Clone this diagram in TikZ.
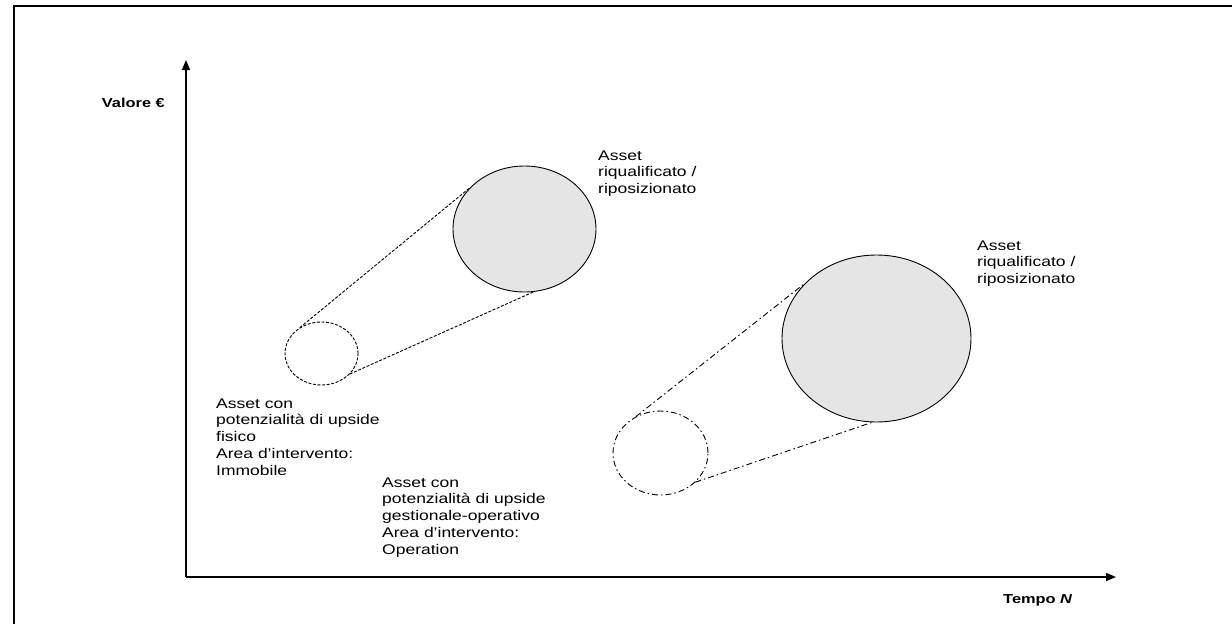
\documentclass[tikz,border=0pt]{standalone}
\usepackage{fontspec}
\usepackage{graphicx}
\setmainfont{Liberation Sans}
\usetikzlibrary{shapes.geometric,arrows.meta}
\newcommand{\widetext}[1]{\scalebox{1.25}[1]{\begin{tabular}{@{}l@{}}#1\end{tabular}}}
\newcommand{\wideword}[1]{\scalebox{1.26}[1]{#1}}
\tikzset{
  axis/.style={line width=1.4pt, -{Triangle[length=10pt,width=8pt]}},
  frameline/.style={line width=1.5pt},
  bigell/.style={ellipse, draw, line width=0.9pt, fill=gray!20, inner sep=0pt},
  smallell/.style={ellipse, draw, line width=0.9pt, inner sep=0pt},
  dashA/.style={line width=0.9pt, dash pattern=on 3pt off 1.6pt},
  dashB/.style={line width=0.9pt, dash pattern=on 6pt off 3pt on 1.5pt off 3pt},
  lbl/.style={font=\fontsize{14}{16.8}\selectfont, anchor=north west, inner sep=0pt},
  axlbl/.style={font=\fontsize{13}{15}\selectfont\bfseries, inner sep=0pt}
}
\begin{document}
\begin{tikzpicture}[x=1pt,y=-1pt]
\useasboundingbox (0,0) rectangle (1232,624);
% frame
\draw[frameline] (14,624) -- (14,6) -- (1232,6);
% axes
\coordinate (O) at (186,577);
\coordinate (ytip) at (186,60);
\coordinate (xtip) at (1116,577);
\draw[axis] (O) -- (ytip);
\draw[axis] (O) -- (xtip);
\node[axlbl, anchor=base east] (yl) at (165,107) {\wideword{Valore €}};
\node[axlbl, anchor=base west] (xl) at (1003,603) {\wideword{Tempo \textit{N}}};
% ellipses group 1
\node[smallell, dashA, minimum width=73pt, minimum height=63pt] (s1) at (321.5,353.5) {};
\node[bigell, minimum width=143pt, minimum height=126pt] (b1) at (524.5,229) {};
\draw[dashA] (s1.130) -- (b1.143);
\draw[dashA] (s1.-36) -- (b1.-82);
% ellipses group 2
\node[smallell, dashB, minimum width=95pt, minimum height=84pt] (s2) at (660.5,453) {};
\node[bigell, minimum width=189pt, minimum height=167pt] (b2) at (876.5,338.5) {};
\draw[dashB] (s2.124) -- (b2.142);
\draw[dashB] (s2.-40) -- (b2.-93);
% labels
\node[lbl] (t1) at (598,148.2) {\widetext{Asset\\riqualificato /\\riposizionato}};
\node[lbl] (t2) at (977,238.2) {\widetext{Asset\\riqualificato /\\riposizionato}};
\node[lbl] (t3) at (216,396.2) {\widetext{Asset con\\potenzialità di upside\\fisico\\Area d’intervento:\\Immobile}};
\node[lbl] (t4) at (382,475.2) {\widetext{Asset con\\potenzialità di upside\\gestionale-operativo\\Area d’intervento:\\Operation}};
\end{tikzpicture}
\end{document}
